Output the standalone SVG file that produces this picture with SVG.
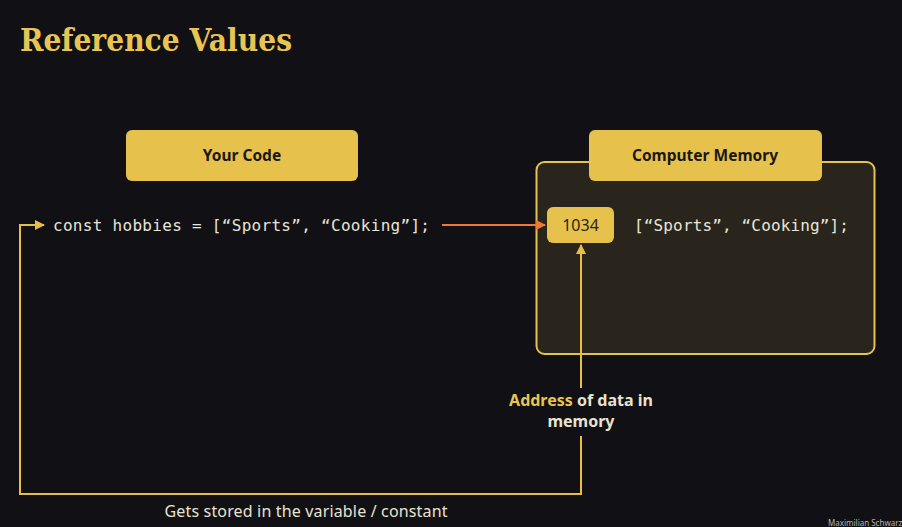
<svg xmlns="http://www.w3.org/2000/svg" width="902" height="527" viewBox="0 0 902 527">
  <defs>
    <marker id="arrYellow" viewBox="0 0 10 10" refX="9" refY="5" markerWidth="10" markerHeight="10" markerUnits="userSpaceOnUse" orient="auto">
      <path d="M0,0 L10,5 L0,10 z" fill="#e8bf45"/>
    </marker>
    <marker id="arrOrange" viewBox="0 0 10 10" refX="9" refY="5" markerWidth="10" markerHeight="10" markerUnits="userSpaceOnUse" orient="auto">
      <path d="M0,0 L10,5 L0,10 z" fill="#ec7a32"/>
    </marker>
  </defs>
  <style>
    .title { font-family: "Roboto Slab", "DejaVu Serif", "Liberation Serif", serif; font-weight: bold; font-size: 31px; fill: #e8c552; }
    .tab { fill: #e6c24c; }
    .tabLabel { font-family: "Noto Sans", "Open Sans", sans-serif; font-weight: bold; font-size: 15.5px; fill: #1a1712; text-anchor: middle; }
    .code { font-family: "DejaVu Sans Mono", "Liberation Mono", monospace; font-size: 16px; fill: #e8e4d8; }
    .label { font-family: "Noto Sans", "Open Sans", sans-serif; font-size: 16px; fill: #e9e3cf; text-anchor: middle; }
    .yellowLine { fill: none; stroke: #e8bf45; stroke-width: 2; }
    .orangeLine { fill: none; stroke: #ec7a32; stroke-width: 2; }
  </style>

  <rect x="0" y="0" width="902" height="527" fill="#111015"/>

  <text class="title" x="20" y="51" textLength="272" lengthAdjust="spacingAndGlyphs">Reference Values</text>

  <g id="your-code">
    <rect class="tab" x="126" y="130" width="232" height="51" rx="6"/>
    <text class="tabLabel" x="242" y="161">Your Code</text>
  </g>

  <g id="code-line">
    <text class="code" x="53" y="231" textLength="377" lengthAdjust="spacing">const hobbies = [“Sports”, “Cooking”];</text>
  </g>

  <g id="computer-memory">
    <rect x="536.5" y="162" width="338" height="192" rx="8" fill="#29251c" stroke="#e6c24c" stroke-width="2"/>
    <rect class="tab" x="589" y="130" width="233" height="51" rx="6"/>
    <text class="tabLabel" x="705" y="161">Computer Memory</text>
  </g>

  <g id="address">
    <rect class="tab" x="547" y="207" width="67" height="36" rx="6"/>
    <text x="580.5" y="231" font-family="'Noto Sans', 'Open Sans', sans-serif" font-size="16" fill="#2a2418" text-anchor="middle">1034</text>
  </g>

  <g id="memory-value">
    <text class="code" x="634" y="231" textLength="215" lengthAdjust="spacing">[“Sports”, “Cooking”];</text>
  </g>

  <g id="address-label">
    <text class="label" font-weight="bold" x="581" y="406"><tspan fill="#e8c552">Address</tspan> of data in</text>
    <text class="label" font-weight="bold" x="581" y="427">memory</text>
  </g>

  <g id="connectors">
    <line class="orangeLine" x1="442" y1="225" x2="545" y2="225" marker-end="url(#arrOrange)"/>
    <line class="yellowLine" x1="581" y1="388" x2="581" y2="245" marker-end="url(#arrYellow)"/>
    <polyline class="yellowLine" points="581,436 581,494 20,494 20,225 44,225" marker-end="url(#arrYellow)"/>
  </g>

  <text class="label" x="306" y="517" fill="#d2cdbf" textLength="283" lengthAdjust="spacing">Gets stored in the variable / constant</text>

  <text x="828" y="526" font-family="'Noto Sans', sans-serif" font-size="8" fill="#b8b4aa">Maximilian Schwarzmüller</text>
</svg>
